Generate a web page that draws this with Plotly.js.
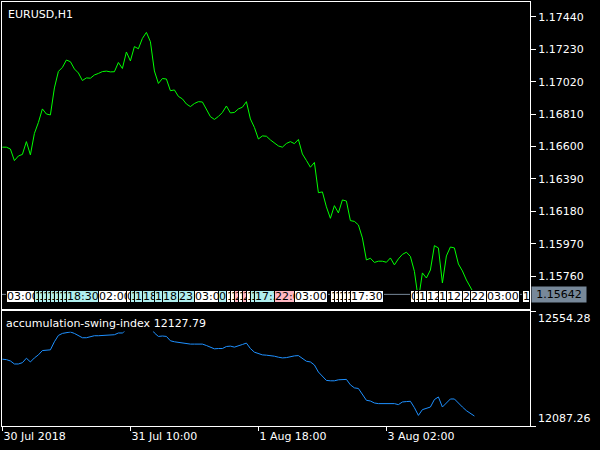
<!DOCTYPE html>
<html><head><meta charset="utf-8">
<script src="https://cdn.plot.ly/plotly-3.0.1.min.js"></script>
<style>html,body{margin:0;padding:0;background:#000;}#chart{width:600px;height:450px;}</style>
</head><body><div id="chart"></div>
<script>
// EURUSD H1 closes (one per bar)
const closes = [1.16596,1.16596,1.16584,1.16509,1.16539,1.16549,1.16632,1.16546,1.16685,1.16756,
1.16844,1.16811,1.16805,1.16980,1.17087,1.17113,1.17161,1.17150,1.17103,1.17077,
1.17028,1.17045,1.17043,1.17064,1.17074,1.17086,1.17089,1.17084,1.17085,1.17145,
1.17106,1.17213,1.17155,1.17248,1.17234,1.17301,1.17340,1.17280,1.17090,1.17009,
1.17041,1.17038,1.16962,1.16967,1.16925,1.16909,1.16876,1.16859,1.16879,1.16891,
1.16889,1.16840,1.16794,1.16776,1.16795,1.16821,1.16863,1.16818,1.16821,1.16844,
1.16855,1.16891,1.16779,1.16724,1.16649,1.16669,1.16667,1.16643,1.16622,1.16604,
1.16596,1.16620,1.16632,1.16619,1.16646,1.16552,1.16510,1.16466,1.16497,1.16301,
1.16306,1.16209,1.16135,1.16217,1.16170,1.16254,1.16247,1.16120,1.16115,1.16092,
1.16008,1.15865,1.15876,1.15849,1.15857,1.15857,1.15850,1.15878,1.15833,1.15872,
1.15901,1.15915,1.15888,1.15791,1.15606,1.15781,1.15748,1.15800,1.15958,1.15943,
1.15716,1.15891,1.15949,1.15943,1.15839,1.15794,1.15735,1.15684,1.15642];

// Accumulation Swing Index values
const asi = [12358.5,12356.8,12351.5,12339.2,12339.2,12344.5,12362.6,12347.4,12363.8,12376.1,
12393.7,12396.6,12396.6,12429.3,12455.2,12463.3,12467.4,12469.1,12463.3,12455.2,
12445.7,12445.7,12449.8,12453.9,12453.9,12455.2,12456.8,12457.2,12458.0,12465.0,
12465.0,12478.5,12481.4,12486.7,12489.6,12494.9,12511.3,12490.8,12465.0,12451.1,
12452.7,12451.1,12433.4,12429.3,12426.5,12422.4,12419.9,12419.9,12419.9,12419.9,
12419.9,12414.2,12407.6,12400.7,12401.9,12401.9,12410.1,12411.7,12407.6,12414.2,
12418.3,12424.0,12401.9,12387.1,12380.2,12376.1,12374.9,12373.2,12370.8,12366.7,
12363.8,12365.0,12369.1,12372.0,12373.2,12360.9,12350.3,12347.4,12335.1,12306.4,
12290.0,12272.4,12270.8,12270.8,12274.9,12276.5,12276.5,12254.4,12242.1,12239.7,
12217.5,12191.7,12188.8,12180.7,12178.2,12178.2,12178.2,12178.2,12178.2,12174.1,
12184.8,12186.4,12187.6,12161.8,12130.3,12153.6,12157.7,12164.3,12194.6,12205.2,
12164.3,12180.7,12197.0,12197.0,12179.4,12164.3,12149.5,12138.5,12127.79];

const priceTicks = [1.17440,1.17230,1.17020,1.16810,1.16600,1.16390,1.16180,1.15970,1.15760];
const priceRange = [1.15547, 1.17537];
const asiScale = [12087.26, 12554.28];
const timeTickBars = [0, 32, 64, 96];
const timeTickLabels = ["30 Jul 2018", "31 Jul 10:00", "1 Aug 18:00", "3 Aug 02:00"];
const symbolLabel = "EURUSD,H1";
const indicatorName = "accumulation-swing-index";

// time label strip (bar index, text, kind)
const stripBars = [1,8,9,10,11,12,13,14,15,16,24,31,32,33,35,38,40,44,48,54,56,57,58,59,60,61,62,63,68,73,82,83,84,85,86,87,102,103,104,106,109,111,115,117,121,130];
const stripTexts = ["03:00","18:30","18:30","18:30","18:30","18:30","18:30","18:30","18:30","18:30","02:00","02:00","18:30","18:30","18:30","18:30","18:30","23:00","03:00","03:00","17:30","17:30","22:00","17:30","22:00","17:30","17:30","17:30","22:00","03:00","17:30","17:30","17:30","17:30","17:30","17:30","03:00","12:00","12:00","12:00","12:00","12:00","22:00","22:00","03:00","12:00"];
const stripKinds = ["w","c","c","c","c","c","c","c","c","c","w","w","c","c","c","c","c","c","w","c","w","w","p","w","p","w","c","c","p","w","w","w","w","w","w","w","w","w","w","w","w","w","w","w","w","w"];

const kindColor = {w:"#ffffff", c:"#afeeee", p:"#ffb6c1"};
const FONT = "DejaVu Sans, sans-serif";
const bars = closes.map((_, i) => i);
const xr = [-0.1, 131.9];
const last = closes[closes.length - 1];

const traces = [
  {x: bars, y: closes, xaxis: "x", yaxis: "y", type: "scatter", mode: "lines",
   line: {color: "#00ff00", width: 1}, hoverinfo: "skip"},
  {x: bars, y: asi, xaxis: "x2", yaxis: "y2", type: "scatter", mode: "lines",
   line: {color: "#1e90ff", width: 1}, hoverinfo: "skip"}
];

const annotations = [];
// strip
stripBars.forEach((b, k) => {
  const a = {xref: "x", x: b, xanchor: "left", yref: "paper", y: 0.3054, yanchor: "middle",
    text: stripTexts[k], showarrow: false, bgcolor: kindColor[stripKinds[k]],
    bordercolor: "#000", borderwidth: 1, borderpad: 0, height: 11, align: "left",
    font: {family: FONT, size: 11, color: "#000"}};
  const remaining = 528 - 4 * b - 2;
  if (remaining < 34) a.width = remaining;
  annotations.push(a);
});
annotations.push({xref: "paper", x: 0, xanchor: "left", xshift: 4, yref: "paper", y: 1, yanchor: "top", yshift: -4,
  text: symbolLabel, showarrow: false, font: {family: FONT, size: 11, color: "#fff"}});
annotations.push({xref: "paper", x: 0, xanchor: "left", xshift: 2, yref: "paper", y: 0.2712, yanchor: "top", yshift: -4,
  text: indicatorName + " " + asi[asi.length - 1].toFixed(2), showarrow: false, bgcolor: "#000",
  borderpad: 1, font: {family: FONT, size: 11, color: "#fff"}});
annotations.push({xref: "paper", x: 1, xanchor: "left", xshift: 1, yref: "y", y: last, yanchor: "middle",
  text: last.toFixed(5), showarrow: false, bgcolor: "#778899", width: 52, height: 13, borderpad: 1,
  font: {family: FONT, size: 11, color: "#000"}});
annotations.push({xref: "paper", x: 1, xanchor: "left", xshift: 6, yref: "y2", y: asiScale[1], yanchor: "top", yshift: 1,
  text: asiScale[1].toFixed(2), showarrow: false, font: {family: FONT, size: 11, color: "#fff"}});
annotations.push({xref: "paper", x: 1, xanchor: "left", xshift: 6, yref: "y2", y: asiScale[0], yanchor: "bottom", yshift: -1,
  text: asiScale[0].toFixed(2), showarrow: false, font: {family: FONT, size: 11, color: "#fff"}});

const axisCommon = {showgrid: false, zeroline: false, showline: true, mirror: true, linecolor: "#fff", linewidth: 1,
  tickcolor: "#fff", fixedrange: true};

const layout = {
  width: 600, height: 450,
  margin: {l: 2, r: 70, t: 2, b: 24, pad: 0},
  paper_bgcolor: "#000", plot_bgcolor: "#000",
  showlegend: false,
  font: {family: FONT, size: 11, color: "#fff"},
  xaxis: Object.assign({}, axisCommon, {domain: [0, 1], anchor: "y", range: xr, showticklabels: false, ticks: ""}),
  yaxis: Object.assign({}, axisCommon, {domain: [0.2759, 1], anchor: "x", side: "right", range: priceRange,
    tickvals: priceTicks, ticktext: priceTicks.map(v => v.toFixed(5)), ticks: "outside", ticklen: 5,
    tickfont: {family: FONT, size: 11, color: "#fff"}}),
  xaxis2: Object.assign({}, axisCommon, {domain: [0, 1], anchor: "y2", range: xr,
    tickvals: timeTickBars, ticktext: timeTickLabels, ticks: "outside", ticklen: 4,
    ticklabelposition: "outside right", tickfont: {family: FONT, size: 11, color: "#fff"}}),
  yaxis2: Object.assign({}, axisCommon, {domain: [0, 0.2712], anchor: "x2", side: "right", range: asiScale,
    tickvals: asiScale, showticklabels: false, ticks: "outside", ticklen: 5}),
  shapes: [{type: "line", xref: "paper", x0: 0, x1: 1, yref: "y", y0: last, y1: last,
    line: {color: "#778899", width: 1}, layer: "below"}],
  annotations: annotations
};

Plotly.newPlot("chart", traces, layout, {staticPlot: true, displayModeBar: false});
</script>
</body></html>
